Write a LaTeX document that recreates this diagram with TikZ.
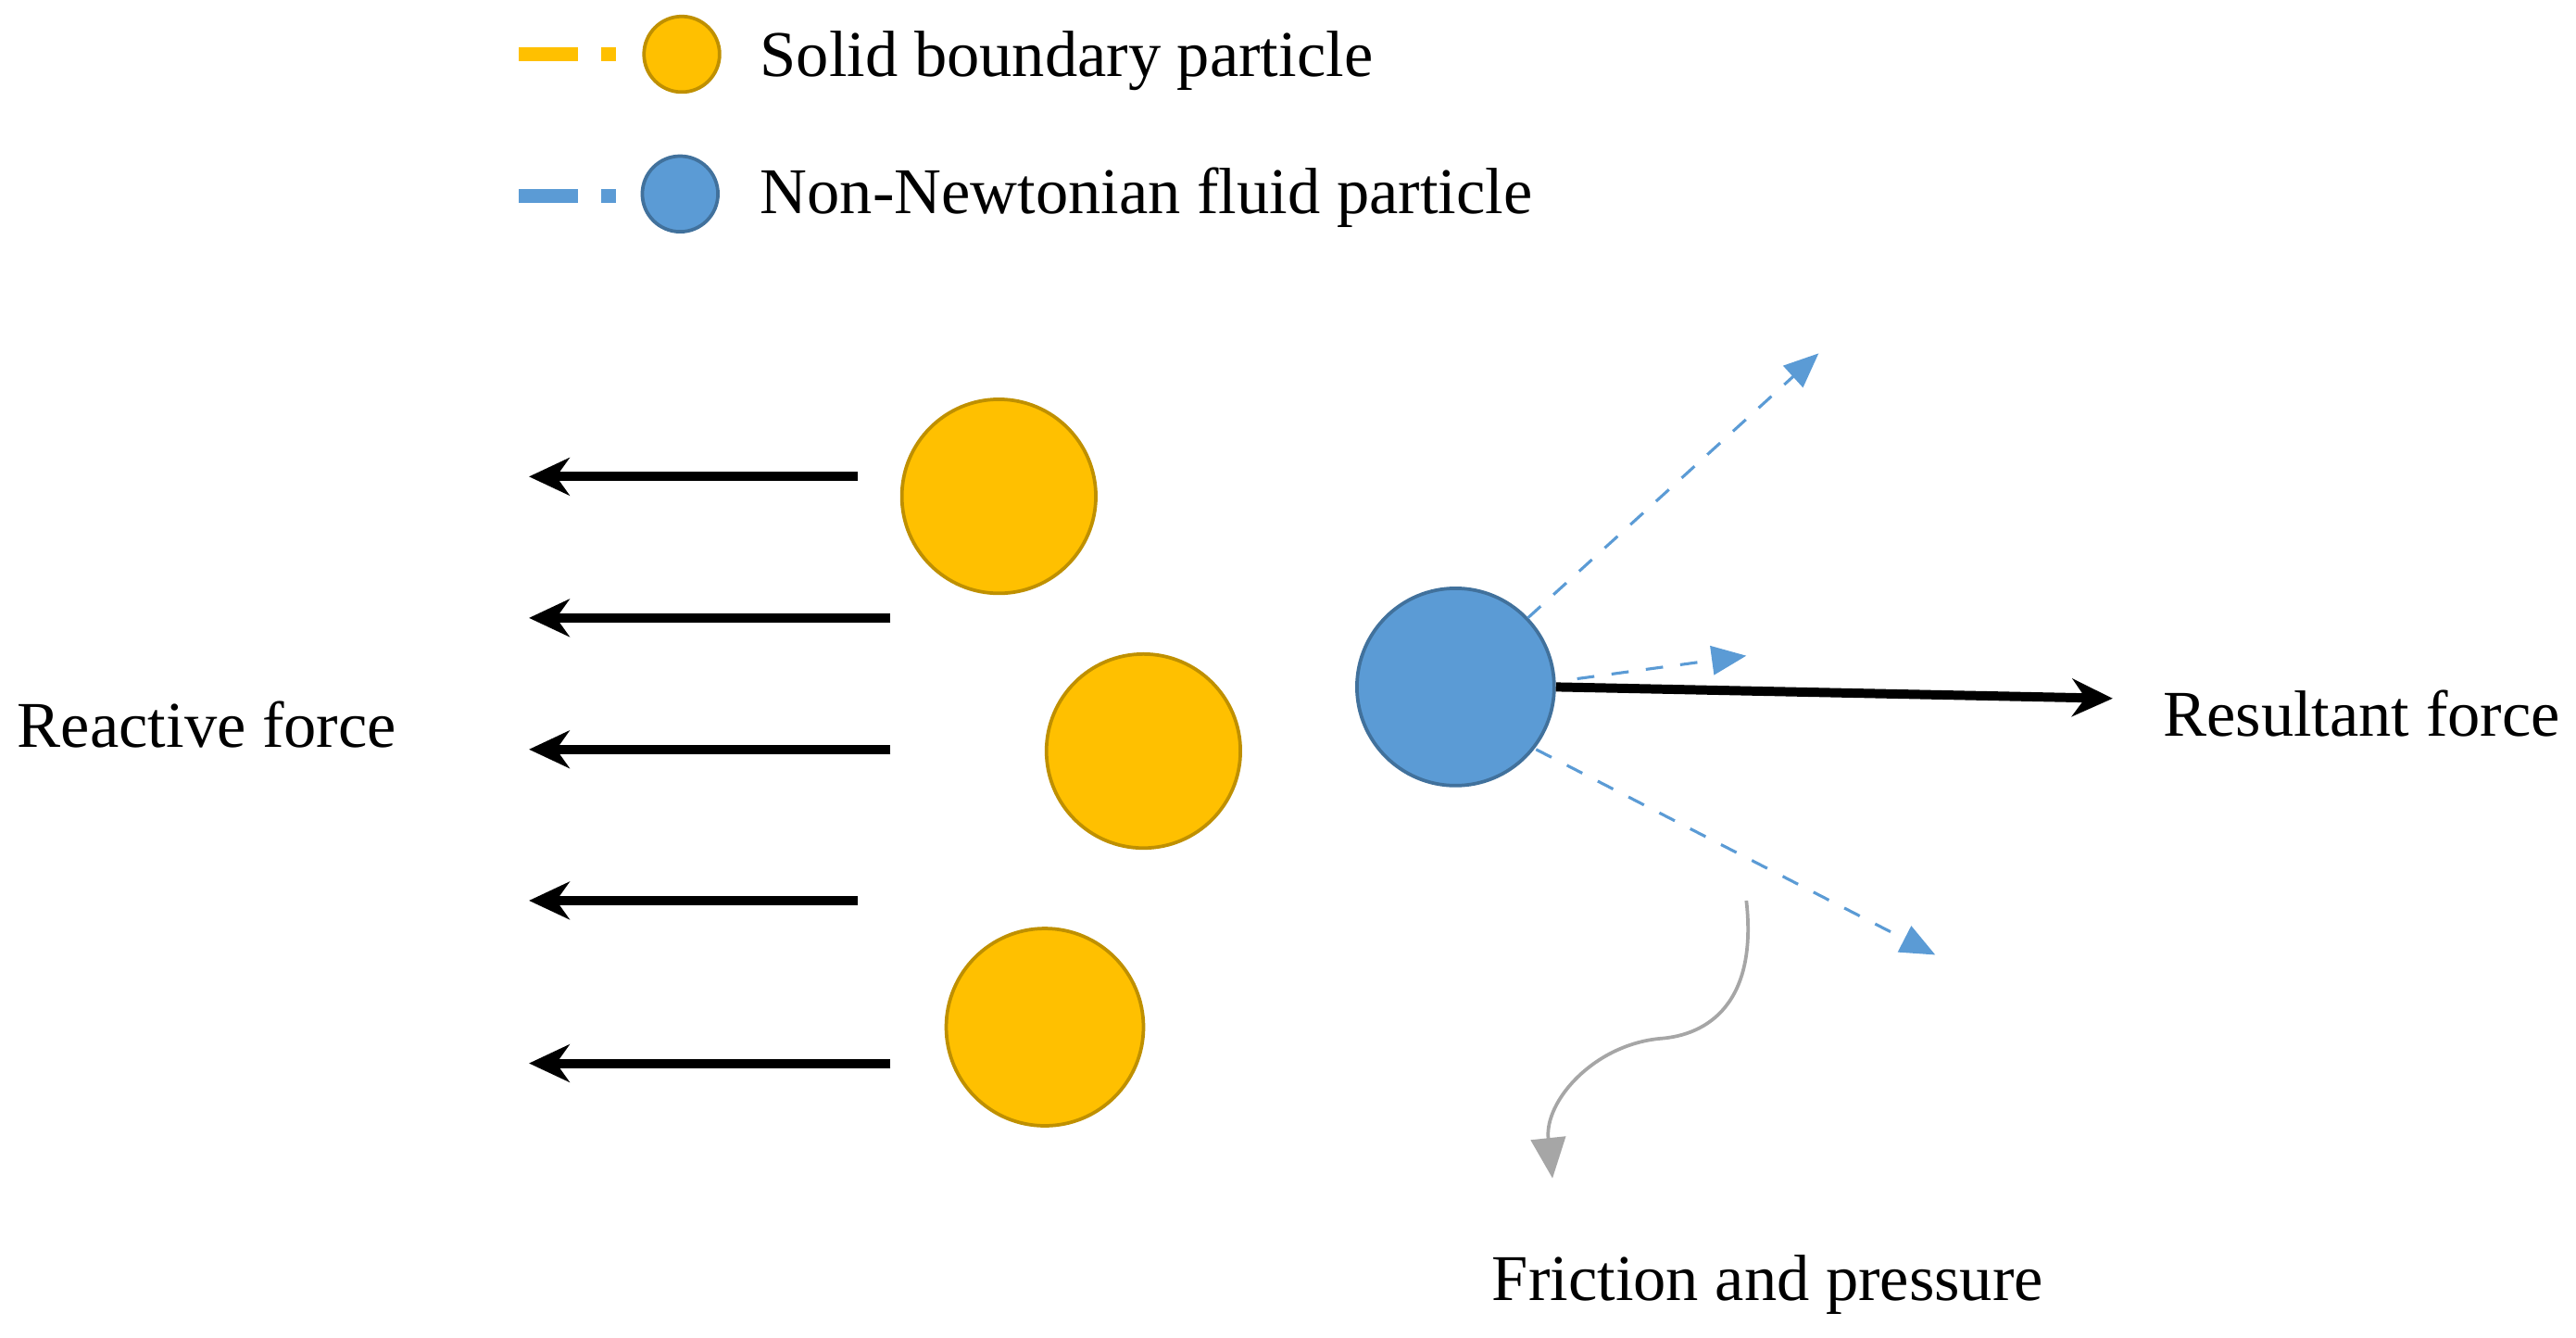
\documentclass[tikz,border=0pt]{standalone}
\usepackage{fontspec}
\setmainfont{Liberation Serif}
\usetikzlibrary{arrows.meta}
\definecolor{gold}{RGB}{255,192,0}
\definecolor{golddk}{RGB}{191,144,0}
\definecolor{bluef}{RGB}{91,155,213}
\definecolor{bluedk}{RGB}{65,113,156}
\begin{document}
\begin{tikzpicture}[x=0.01cm,y=-0.01cm,
  solid/.style={circle,draw=golddk,fill=gold,line width=0.6pt,inner sep=0pt},
  fluid/.style={circle,draw=bluedk,fill=bluef,line width=0.6pt,inner sep=0pt},
  force/.style={line width=1.6pt,-{Stealth[length=7pt,width=6.5pt]}},
  dflow/.style={draw=bluef,dashed,line width=0.5pt,-{Triangle[length=6pt,width=5pt]}},
  lbl/.style={font=\fontsize{11.3}{13}\selectfont,anchor=west,inner sep=0pt}]
\useasboundingbox (0,0) rectangle (1568,814);
% legend
\coordinate (l1a) at (316,33); \coordinate (l1b) at (352,33); \coordinate (l1c) at (366,33); \coordinate (l1d) at (375,33);
\draw[line width=2.4pt,gold] (l1a) -- (l1b) (l1c) -- (l1d);
\node[solid,minimum size=0.46cm] (ls) at (415,33) {};
\node[lbl] (lst) at (462,37) {Solid boundary particle};
\coordinate (l2a) at (316,119); \coordinate (l2b) at (352,119); \coordinate (l2c) at (366,119); \coordinate (l2d) at (375,119);
\draw[line width=2.4pt,bluef] (l2a) -- (l2b) (l2c) -- (l2d);
\node[fluid,minimum size=0.46cm] (lf) at (414,118) {};
\node[lbl] (lft) at (462,120) {Non-Newtonian fluid particle};
% particles
\node[solid,minimum size=1.18cm] (s1) at (608,302) {};
\node[solid,minimum size=1.18cm] (s2) at (696,457) {};
\node[solid,minimum size=1.2cm] (s3) at (636,625) {};
\node[fluid,minimum size=1.2cm] (f) at (886,418) {};
% reactive forces
\coordinate (a1s) at (522,290); \coordinate (a1e) at (322,290);
\coordinate (a2s) at (542,376); \coordinate (a2e) at (322,376);
\coordinate (a3s) at (542,456); \coordinate (a3e) at (322,456);
\coordinate (a4s) at (522,548); \coordinate (a4e) at (322,548);
\coordinate (a5s) at (542,647); \coordinate (a5e) at (322,647);
\foreach \i in {1,...,5} \draw[force] (a\i s) -- (a\i e);
\node[lbl] (rf) at (10,441) {Reactive force};
% resultant
\coordinate (re) at (1286,425);
\draw[force] (f.east) -- (re);
\node[lbl] (rt) at (1316,434) {Resultant force};
% dashed flows
\coordinate (d1s) at (930,376); \coordinate (d1e) at (1107,215);
\coordinate (d2s) at (960,413); \coordinate (d2e) at (1063,399);
\coordinate (d3s) at (935,456); \coordinate (d3e) at (1178,581);
\draw[dflow] (d1s) -- (d1e);
\draw[dflow] (d2s) -- (d2e);
\draw[dflow] (d3s) -- (d3e);
% friction
\coordinate (cs) at (1063,548); \coordinate (ce) at (945,717);
\draw[gray!70,line width=0.6pt,-{Triangle[length=7pt,width=6pt]}] (cs) .. controls (1070,610) and (1040,630) .. (1010,632) .. controls (970,636) and (940,670) .. (ce);
\node[font=\fontsize{11.3}{13}\selectfont,inner sep=0pt] (ft) at (1076,782) {Friction and pressure};
\end{tikzpicture}
\end{document}
